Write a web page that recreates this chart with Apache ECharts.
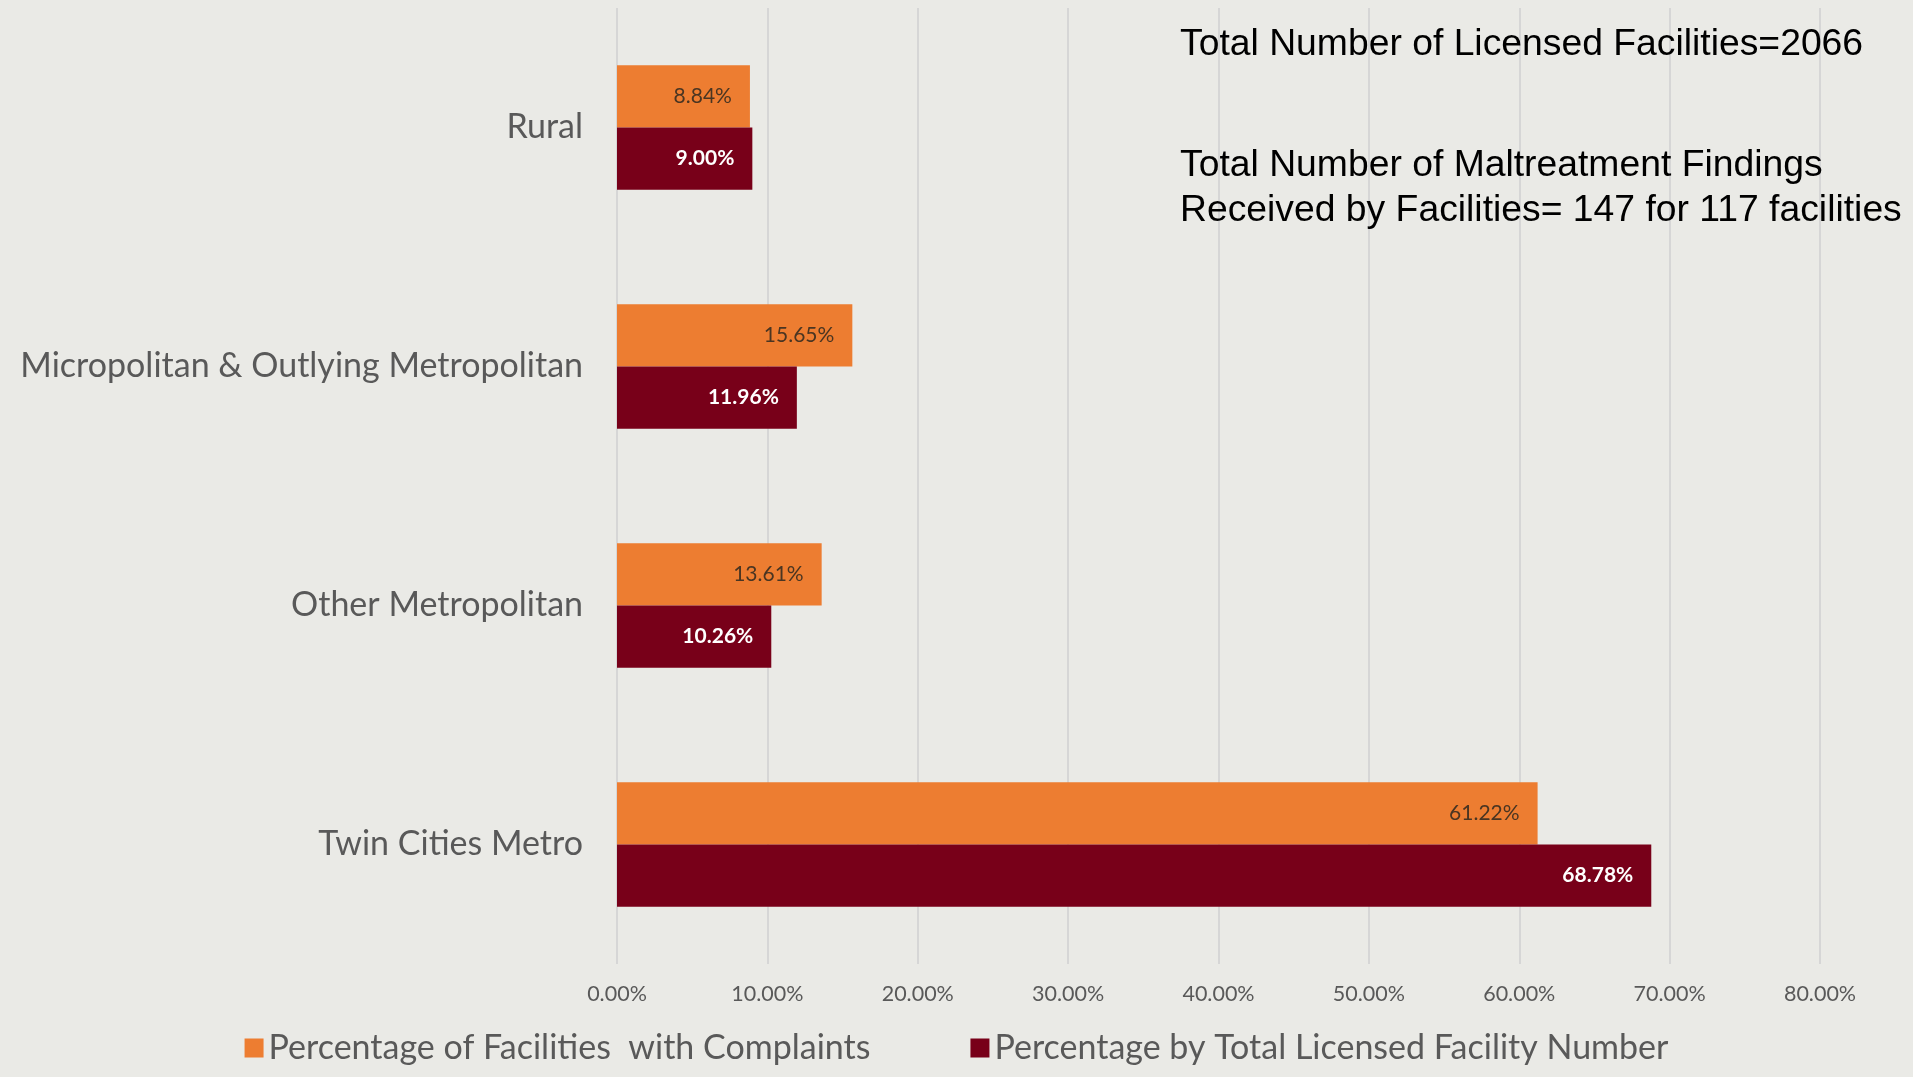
<!DOCTYPE html>
<html>
	<head>
		<meta charset="utf-8" />
		<title>Facilities by region</title>
		<script src="https://cdn.jsdelivr.net/npm/echarts@6/dist/echarts.min.js"></script>
		<style type="text/css">
			html,body{margin:0;padding:0;background:#eaeae6;}
			#main{width:1913px;height:1077px;}
		</style>
	</head>
	<body>
		<div id="main"></div>
		<script type="text/javascript">
			// categories top to bottom
			var regions = ['Rural', 'Micropolitan & Outlying Metropolitan', 'Other Metropolitan', 'Twin Cities Metro'];
			var complaintPct = [8.84, 15.65, 13.61, 61.22];
			var licensedPct = [9.00, 11.96, 10.26, 68.78];
			var seriesNames = ['Percentage of Facilities  with Complaints', 'Percentage by Total Licensed Facility Number'];
			var notes = ['Total Number of Licensed Facilities=2066', 'Total Number of Maltreatment Findings', 'Received by Facilities= 147 for 117 facilities'];

			var font = 'Lato, "Open Sans", sans-serif';
			var noteFont = '"Liberation Sans", Arial, sans-serif';
			function pct(v){ return v.toFixed(2) + '%'; }

			var myChart = echarts.init(document.getElementById('main'));
			var option = {
				backgroundColor: '#eaeae6',
				animation: false,
				grid: {left: 617, right: 93, top: 8, bottom: 113},
				legend: {
					bottom: 7,
					left: 'center',
					itemWidth: 19,
					itemHeight: 19,
					itemGap: 100,
					icon: 'rect',
					textStyle: {fontFamily: font, fontSize: 34, color: '#595959'},
					data: seriesNames
				},
				xAxis: {
					type: 'value',
					min: 0,
					max: 80,
					interval: 10,
					axisLine: {show: false},
					axisTick: {show: false},
					splitLine: {lineStyle: {color: '#d6d6d6', width: 2}},
					axisLabel: {formatter: pct, fontFamily: font, fontSize: 21.5, color: '#595959', margin: 19}
				},
				yAxis: {
					type: 'category',
					inverse: true,
					data: regions,
					axisLine: {show: false},
					axisTick: {show: false},
					axisLabel: {fontFamily: font, fontSize: 34, color: '#595959', margin: 34}
				},
				series: [{
					name: seriesNames[0],
					type: 'bar',
					data: complaintPct,
					barGap: '0%',
					barCategoryGap: '48%',
					itemStyle: {color: '#ed7d31'},
					label: {show: true, position: 'insideRight', distance: 18, formatter: function(p){ return pct(p.value); },
						fontFamily: font, fontSize: 21, color: '#4a3522'}
				}, {
					name: seriesNames[1],
					type: 'bar',
					data: licensedPct,
					barGap: '0%',
					barCategoryGap: '48%',
					itemStyle: {color: '#780019'},
					label: {show: true, position: 'insideRight', distance: 18, formatter: function(p){ return pct(p.value); },
						fontFamily: font, fontSize: 21, fontWeight: 'bold', color: '#ffffff'}
				}],
				graphic: [
					{type: 'text', z: 100, left: 1180, top: 26, style: {text: notes[0], font: '37.3px ' + noteFont, fill: '#000'}},
					{type: 'text', z: 100, left: 1180, top: 147, style: {text: notes[1], font: '37.3px ' + noteFont, fill: '#000'}},
					{type: 'text', z: 100, left: 1180, top: 192, style: {text: notes[2], font: '37.3px ' + noteFont, fill: '#000'}}
				]
			};
			myChart.setOption(option);
		</script>
	</body>
</html>
